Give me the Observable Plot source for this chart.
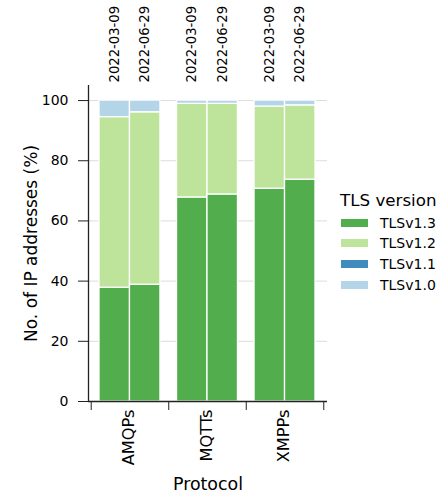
<!DOCTYPE html>
<html><head><meta charset="utf-8">
<script src="https://cdn.jsdelivr.net/npm/d3@7"></script>
<script src="https://cdn.jsdelivr.net/npm/@observablehq/plot@0.6"></script>
<style>
body{margin:0;background:#fff;font-family:"DejaVu Sans",sans-serif;}
#wrap{position:relative;width:445px;height:497px;}
#wrap svg{position:absolute;left:0;top:0;}
#wrap svg text{font-family:"DejaVu Sans",sans-serif;}
.lg{position:absolute;white-space:nowrap;color:#000;}
.sw{position:absolute;width:27px;height:8px;}
</style></head><body><div id="wrap"></div>
<script>
const protocols = ["AMQPs", "MQTTs", "XMPPs"];
const dates = ["2022-03-09", "2022-06-29"];
const versions = ["TLSv1.3", "TLSv1.2", "TLSv1.1", "TLSv1.0"];
const colors = ["#52ae4c", "#bee49c", "#418cbf", "#b3d5e7"];
// values per protocol x date (AMQPs 03-09, AMQPs 06-29, MQTTs 03-09, MQTTs 06-29, XMPPs 03-09, XMPPs 06-29)
const tls13 = [37.8, 38.8, 67.8, 68.8, 70.7, 73.7];
const tls12 = [56.7, 57.3, 31.1, 30.1, 27.3, 24.7];
const tls11 = [0.0, 0.0, 0.0, 0.0, 0.0, 0.0];
const tls10 = [5.5, 3.9, 1.1, 1.1, 2.0, 1.6];
const yTicks = [0, 20, 40, 60, 80, 100];
const groupEdges = [0, 1, 2, 3];

const series = [tls13, tls12, tls11, tls10];
const off = 0.107, w = 0.393;
const rows = [];
const labelRows = [];
protocols.forEach((p, gi) => {
  dates.forEach((d, di) => {
    const k = gi * dates.length + di;
    const x1 = gi + off + di * w, x2 = x1 + w;
    labelRows.push({protocol: p, date: d, x: (x1 + x2) / 2});
    let acc = 0;
    versions.forEach((v, vi) => {
      const val = series[vi][k];
      rows.push({protocol: p, date: d, version: v, x1, x2, y1: acc, y2: acc + val});
      acc += val;
    });
  });
});
const xDomain = [-0.035, 3.048];

const chart = Plot.plot({
  width: 445, height: 497,
  marginTop: 85, marginBottom: 96, marginLeft: 88, marginRight: 118,
  style: {fontFamily: "DejaVu Sans, sans-serif", fontSize: "14px", color: "#000", background: "#fff"},
  x: {type: "linear", domain: xDomain},
  y: {domain: [0, 105]},
  color: {domain: versions, range: colors},
  marks: [
    Plot.gridY(yTicks, {stroke: "#dddddd", strokeOpacity: 1, strokeWidth: 1}),
    Plot.rectY(rows.filter(r => r.y2 > r.y1), {x1: "x1", x2: "x2", y1: "y1", y2: "y2", fill: "version", stroke: "white", strokeWidth: 1.3}),
    Plot.ruleY([0], {stroke: "#222", strokeWidth: 1.3}),
    Plot.ruleX([xDomain[0]], {stroke: "#222", strokeWidth: 1.3}),
    Plot.axisY(yTicks, {tickSize: 10, tickPadding: 10, fontSize: 14, label: null, stroke: "#222"}),
    Plot.axisX(groupEdges, {anchor: "bottom", tickSize: 9, tickFormat: () => "", label: null, stroke: "#222"}),
    Plot.text(labelRows, {x: "x", text: "date", frameAnchor: "top", rotate: -90, textAnchor: "start", lineAnchor: "middle", dy: -3, fontSize: 13.2, fill: "#000"}),
    Plot.text(protocols, {x: (d, i) => i + 0.5, text: d => d, frameAnchor: "bottom", rotate: -90, textAnchor: "end", lineAnchor: "middle", dy: 8, dx: -1, fontSize: 16.2, fill: "#000"}),
    Plot.text(["Protocol"], {frameAnchor: "bottom", textAnchor: "middle", lineAnchor: "middle", dy: 83, fontSize: 17.4, fill: "#000"}),
    Plot.text(["No. of IP addresses (%)"], {frameAnchor: "left", textAnchor: "middle", lineAnchor: "middle", dx: -57, rotate: -90, fontSize: 17, fill: "#000"})
  ]
});
const wrap = document.getElementById("wrap");
wrap.appendChild(chart);

// legend
const title = document.createElement("div");
title.className = "lg";
title.textContent = "TLS version";
Object.assign(title.style, {left: "340px", top: "190px", fontSize: "16.7px", lineHeight: "20px"});
wrap.appendChild(title);
versions.forEach((v, i) => {
  const cy = 222.7 + i * 20.6;
  const sw = document.createElement("div");
  sw.className = "sw";
  Object.assign(sw.style, {left: "341px", top: (cy - 4) + "px", background: colors[i]});
  wrap.appendChild(sw);
  const lb = document.createElement("div");
  lb.className = "lg";
  lb.textContent = v;
  Object.assign(lb.style, {left: "380px", top: (cy - 10) + "px", fontSize: "14px", lineHeight: "20px"});
  wrap.appendChild(lb);
});
</script></body></html>
